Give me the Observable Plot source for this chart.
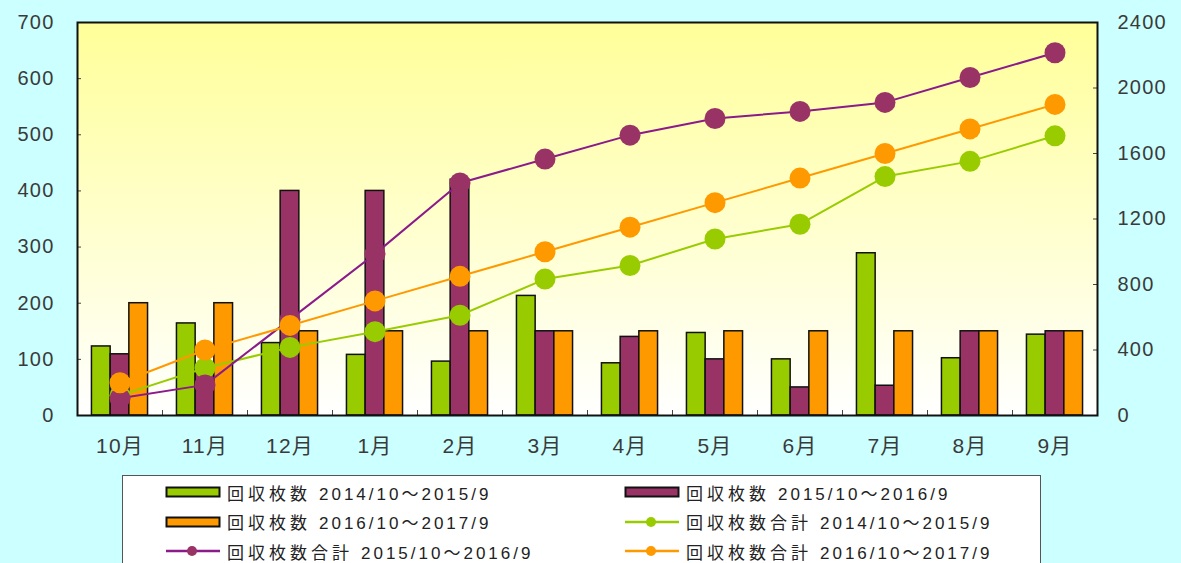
<!DOCTYPE html>
<html><head><meta charset="utf-8">
<script src="https://cdn.jsdelivr.net/npm/d3@7"></script>
<script src="https://cdn.jsdelivr.net/npm/@observablehq/plot@0.6"></script>
<style>
body{margin:0;background:#CCFFFF;width:1181px;height:563px;overflow:hidden;position:relative;font-family:"Liberation Sans","Noto Sans CJK JP",sans-serif;}
#chart{position:absolute;left:0;top:0;}
#legend{position:absolute;left:122px;top:475px;width:919px;height:110px;background:#fff;border:1px solid #555;box-sizing:border-box;}
.item{position:absolute;display:flex;align-items:center;color:#222;white-space:pre;height:22px;}
.item svg{margin-right:6px;}
.name{font-family:"Noto Sans CJK JP",sans-serif;font-size:17px;letter-spacing:4px;}
.period{font-family:"Liberation Sans","Noto Sans CJK JP",sans-serif;font-size:17px;letter-spacing:3px;margin-left:8px;}
</style></head><body><div id="chart"></div><div id="legend"></div>
<script>
const months = ["10月","11月","12月","1月","2月","3月","4月","5月","6月","7月","8月","9月"];
const counts2014 = [123,164,129,108,96,213,93,147,100,289,102,144];
const counts2015 = [109,80,400,400,420,150,140,100,50,53,150,150];
const counts2016 = [200,200,150,150,150,150,150,150,150,150,150,150];
const totals2014 = [123,290,416,512,612,833,916,1078,1168,1459,1552,1708];
const totals2015 = [105,187,587,987,1420,1566,1712,1814,1857,1912,2064,2215];
const totals2016 = [200,400,550,700,850,1000,1150,1300,1450,1600,1750,1900];
const leftTicks = [0,100,200,300,400,500,600,700];
const rightTicks = [0,400,800,1200,1600,2000,2400];
const seriesNames = ["回収枚数","回収枚数","回収枚数","回収枚数合計","回収枚数合計","回収枚数合計"];
const seriesPeriods = ["2014/10～2015/9","2015/10～2016/9","2016/10～2017/9","2014/10～2015/9","2015/10～2016/9","2016/10～2017/9"];
const barColors = ["#99CC00","#993366","#FF9900"];
const lineColors = ["#99CC00","#8B1A8B","#FF9900"];
const dotColors = ["#99CC00","#993366","#FF9900"];

const W = 1181, H = 470, mL = 77, mR = 84, mT = 22, mB = 55;
const plotW = W - mL - mR, plotH = H - mT - mB;
const bw = plotW / months.length;
const groupW = bw * 0.66, barW = groupW / 3, off0 = (bw - groupW) / 2;
const k = 700 / 2400;

const barSeries = [counts2014, counts2015, counts2016].map((vals, s) =>
  months.map((m, i) => ({month: m, value: vals[i], s})));
const lineSeries = [totals2014, totals2015, totals2016].map((vals, s) =>
  months.map((m, i) => ({month: m, value: vals[i] * k, s})));

const marks = [
  Plot.frame({fill: "url(#plotGrad)"}),
  ...barSeries.map((data, s) => Plot.barY(data, {
    x: "month", y: "value", fill: barColors[s], stroke: "#111", strokeWidth: 1.5,
    insetLeft: off0 + s * barW, insetRight: bw - off0 - (s + 1) * barW
  })),
  Plot.tickX(months.slice(1), {x: d => d, dx: -bw / 2, insetTop: plotH - 5, stroke: "#444"}),
  Plot.tickY(leftTicks, {y: d => d, insetRight: plotW - 4, stroke: "#444"}),
  Plot.tickY(rightTicks.map(v => v * k), {y: d => d, insetLeft: plotW - 4, stroke: "#444"}),
];
[0, 1, 2].forEach(s => {
  marks.push(Plot.line(lineSeries[s], {x: "month", y: "value", stroke: lineColors[s], strokeWidth: 2}));
  marks.push(Plot.dot(lineSeries[s], {x: "month", y: "value", fill: dotColors[s], r: 10.5}));
});
marks.push(
  Plot.frame({stroke: "#111", strokeWidth: 2}),
  Plot.axisX({tickSize: 0, tickPadding: 23, fontSize: 21, label: null}),
  Plot.axisY(leftTicks, {anchor: "left", tickSize: 0, tickPadding: 23, fontSize: 20, label: null}),
  Plot.axisY(rightTicks.map(v => v * k), {anchor: "right", tickSize: 0, tickPadding: 20, fontSize: 20, label: null,
    tickFormat: v => String(Math.round(v / k))})
);

const svg = Plot.plot({
  width: W, height: H,
  marginLeft: mL, marginRight: mR, marginTop: mT, marginBottom: mB,
  style: {background: "transparent", color: "#333", fontFamily: "'Liberation Sans', 'Noto Sans CJK JP', sans-serif", overflow: "visible"},
  x: {type: "band", domain: months, padding: 0, axis: null},
  y: {domain: [0, 700], axis: null},
  marks
});
const defs = d3.select(svg).insert("defs", ":first-child");
const g = defs.append("linearGradient").attr("id", "plotGrad").attr("x1", 0).attr("y1", 0).attr("x2", 0).attr("y2", 1);
g.append("stop").attr("offset", "0%").attr("stop-color", "#FFFF99");
g.append("stop").attr("offset", "100%").attr("stop-color", "#FFFFFF");
d3.select(svg).selectAll("text").attr("fill", "#3a3a3a").style("letter-spacing", "1.2px");
document.getElementById("chart").appendChild(svg);

// legend
const legend = d3.select("#legend");
const items = [
  {type: "bar", color: barColors[0], col: 0, row: 0, idx: 0},
  {type: "bar", color: barColors[1], col: 1, row: 0, idx: 1},
  {type: "bar", color: barColors[2], col: 0, row: 1, idx: 2},
  {type: "line", color: lineColors[0], dot: dotColors[0], col: 1, row: 1, idx: 3},
  {type: "line", color: lineColors[1], dot: dotColors[1], col: 0, row: 2, idx: 4},
  {type: "line", color: lineColors[2], dot: dotColors[2], col: 1, row: 2, idx: 5},
];
items.forEach(it => {
  const div = legend.append("div").attr("class", "item")
    .style("left", (it.col ? 501 : 42) + "px")
    .style("top", (5 + it.row * 29.5) + "px");
  const sw = div.append("svg").attr("width", 56).attr("height", 14);
  if (it.type === "bar") {
    sw.append("rect").attr("x", 1.5).attr("y", 2.5).attr("width", 53).attr("height", 9)
      .attr("fill", it.color).attr("stroke", "#111").attr("stroke-width", 2);
  } else {
    sw.append("line").attr("x1", 1).attr("x2", 55).attr("y1", 7).attr("y2", 7)
      .attr("stroke", it.color).attr("stroke-width", 2.5);
    sw.append("circle").attr("cx", 27).attr("cy", 7).attr("r", 5).attr("fill", it.dot);
  }
  div.append("span").attr("class", "name").text(seriesNames[it.idx]);
  div.append("span").attr("class", "period").text(seriesPeriods[it.idx]);
});
</script>
</body></html>
